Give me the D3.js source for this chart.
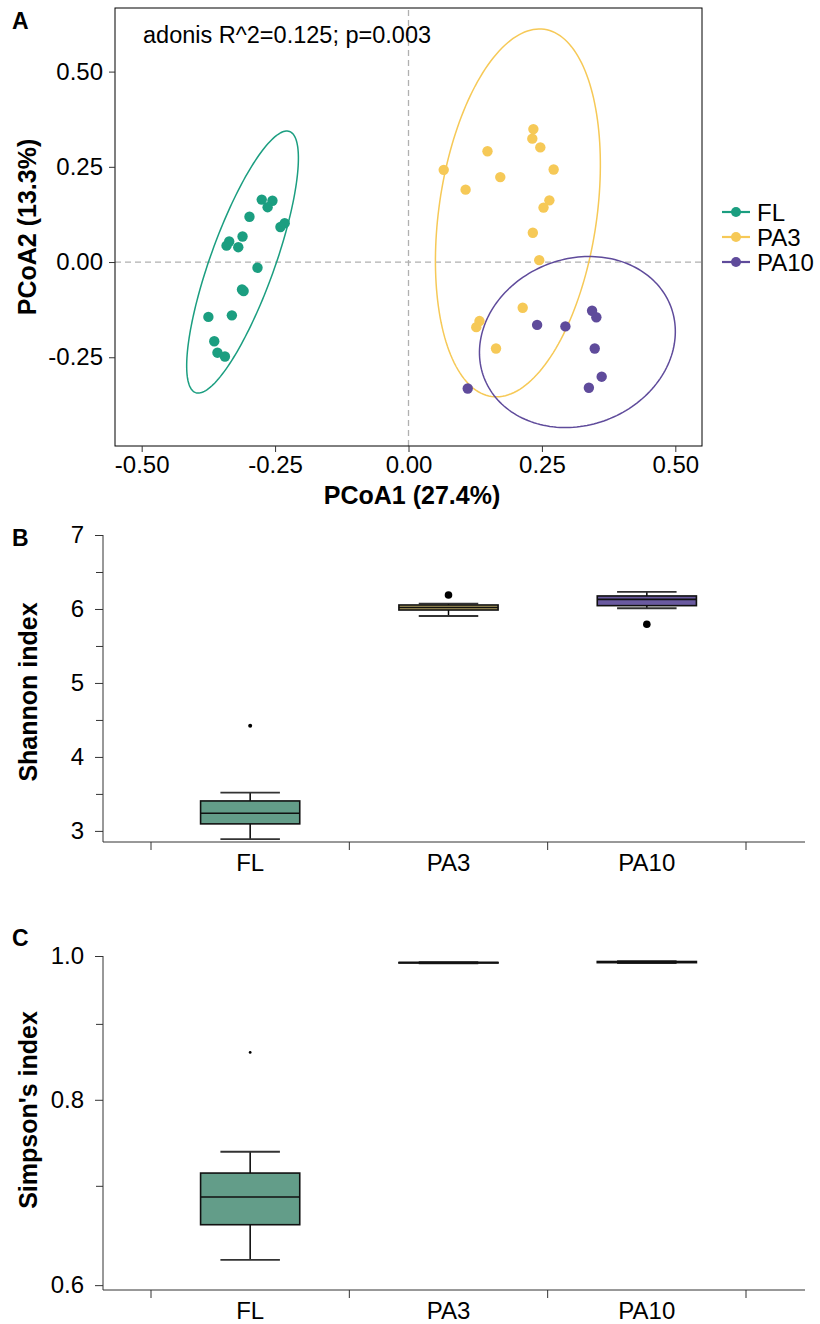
<!DOCTYPE html>
<html><head><meta charset="utf-8">
<script src="https://cdn.jsdelivr.net/npm/d3@7"></script>
<style>
body{margin:0;background:#fff}
text{font-family:"Liberation Sans",Arial,Helvetica,sans-serif;fill:#000}
</style>
</head><body>
<svg id="chart" width="820" height="1324"></svg>
<script>
// ---------- data ----------
const groups = ["FL", "PA3", "PA10"];
const groupColors = ["#1b9e80", "#f6c957", "#5f4b9b"];
const boxFills = ["#639d89", "#b3a260", "#6a5aa0"];

// PCoA coordinates
const pcoa1FL = [-0.275,-0.255,-0.264,-0.298,-0.240,-0.232,-0.311,-0.336,-0.341,-0.319,-0.283,-0.312,-0.309,-0.375,-0.331,-0.364,-0.358,-0.344];
const pcoa2FL = [0.164,0.161,0.144,0.119,0.092,0.102,0.067,0.054,0.043,0.039,-0.015,-0.072,-0.076,-0.144,-0.140,-0.208,-0.238,-0.248];
const pcoa1PA3 = [0.234,0.232,0.247,0.148,0.066,0.272,0.172,0.107,0.264,0.253,0.233,0.245,0.214,0.133,0.127,0.164];
const pcoa2PA3 = [0.349,0.324,0.301,0.291,0.242,0.243,0.223,0.190,0.162,0.143,0.077,0.005,-0.120,-0.155,-0.171,-0.227];
const pcoa1PA10 = [0.241,0.294,0.344,0.352,0.349,0.362,0.338,0.111];
const pcoa2PA10 = [-0.165,-0.169,-0.128,-0.145,-0.227,-0.301,-0.330,-0.332];

// 95% ellipses: centre and two conjugate semi-axis vectors (data units)
const ellipseCx = [-0.311, 0.205, 0.3165];
const ellipseCy = [0.000, 0.129, -0.210];
const ellipseAx = [0.0880, 0.0495, 0.1749];
const ellipseAy = [0.3428, 0.482, 0.0937];
const ellipseBx = [0.0567, 0.1464, 0.0556];
const ellipseBy = [-0.0286, -0.0296, -0.204];

const pcoaXTicks = [-0.5, -0.25, 0, 0.25, 0.5];
const pcoaYTicks = [-0.25, 0, 0.25, 0.5];

// Shannon index box stats
const shannonLow  = [2.888, 5.905, 6.010];
const shannonQ1   = [3.095, 5.986, 6.045];
const shannonMed  = [3.239, 6.020, 6.130];
const shannonQ3   = [3.405, 6.054, 6.176];
const shannonHigh = [3.518, 6.072, 6.230];
const shannonOut  = [4.423, 6.189, 5.793];
const shannonTicks = [3, 4, 5, 6, 7];
const shannonMinor = [3.5, 4.5, 5.5, 6.5];

// Simpson's index box stats
const simpsonLow  = [0.624, 0.9886, 0.9890];
const simpsonQ1   = [0.659, 0.9893, 0.9897];
const simpsonMed  = [0.688, 0.9897, 0.9906];
const simpsonQ3   = [0.714, 0.9900, 0.9915];
const simpsonHigh = [0.738, 0.9904, 0.9921];
const simpsonOut  = [0.861, null, null];
const simpsonTicks = [0.6, 0.8, 1.0];
const simpsonMinor = [0.7, 0.9];

// ---------- drawing ----------
const svg = d3.select("#chart");
const FONT = 24;
const TITLE = 25;

// ===== Panel A =====
const xA = d3.scaleLinear().domain([-0.55, 0.55]).range([115, 702]);
const yA = d3.scaleLinear().domain([-0.483, 0.667]).range([446, 8]);

svg.append("text").attr("x", 12).attr("y", 29).attr("font-size", 23).attr("font-weight", "bold").text("A");

const gA = svg.append("g");
gA.append("line").attr("x1", xA(0)).attr("x2", xA(0)).attr("y1", yA.range()[0]).attr("y2", yA.range()[1])
  .attr("stroke", "#b0b0b0").attr("stroke-width", 1.3).attr("stroke-dasharray", "6,4");
gA.append("line").attr("x1", xA.range()[0]).attr("x2", xA.range()[1]).attr("y1", yA(0)).attr("y2", yA(0))
  .attr("stroke", "#b0b0b0").attr("stroke-width", 1.3).attr("stroke-dasharray", "6,4");

const pcoaData = [
  {x: pcoa1FL, y: pcoa2FL},
  {x: pcoa1PA3, y: pcoa2PA3},
  {x: pcoa1PA10, y: pcoa2PA10}
];
const lineGen = d3.line().x(d => xA(d[0])).y(d => yA(d[1])).curve(d3.curveLinearClosed);
const angles = d3.range(0, 360, 2).map(a => a * Math.PI / 180);
groups.forEach((g, i) => {
  const pts = angles.map(t => [
    ellipseCx[i] + ellipseAx[i] * Math.cos(t) + ellipseBx[i] * Math.sin(t),
    ellipseCy[i] + ellipseAy[i] * Math.cos(t) + ellipseBy[i] * Math.sin(t)
  ]);
  gA.append("path").attr("d", lineGen(pts)).attr("fill", "none")
    .attr("stroke", groupColors[i]).attr("stroke-width", 1.5);
});
groups.forEach((g, i) => {
  const d = pcoaData[i];
  gA.selectAll(null).data(d.x.map((v, k) => [v, d.y[k]])).enter().append("circle")
    .attr("cx", p => xA(p[0])).attr("cy", p => yA(p[1])).attr("r", 5.2)
    .attr("fill", groupColors[i]);
});
gA.append("rect").attr("x", 115).attr("y", 8).attr("width", 587).attr("height", 438)
  .attr("fill", "none").attr("stroke", "#000").attr("stroke-width", 1);

const fmt2 = d => d.toFixed(2);
const axA_x = svg.append("g").attr("transform", "translate(0,446)")
  .call(d3.axisBottom(xA).tickValues(pcoaXTicks).tickFormat(fmt2).tickSize(6).tickPadding(4));
const axA_y = svg.append("g").attr("transform", "translate(115,0)")
  .call(d3.axisLeft(yA).tickValues(pcoaYTicks).tickFormat(fmt2).tickSize(6).tickPadding(6));
[axA_x, axA_y].forEach(a => {
  a.select(".domain").remove();
  a.selectAll("text").attr("font-size", FONT).attr("font-family", null).attr("fill", "#000");
  a.selectAll("line").attr("stroke", "#333");
});

svg.append("text").attr("x", 412).attr("y", 504).attr("text-anchor", "middle")
  .attr("font-size", TITLE).attr("font-weight", "bold").text("PCoA1 (27.4%)");
svg.append("text").attr("transform", "translate(36,227) rotate(-90)").attr("text-anchor", "middle")
  .attr("font-size", TITLE).attr("font-weight", "bold").text("PCoA2 (13.3%)");
svg.append("text").attr("x", 143).attr("y", 43).attr("font-size", 23.5).text("adonis R^2=0.125; p=0.003");

// legend
groups.forEach((g, i) => {
  const y = 212 + i * 25;
  svg.append("line").attr("x1", 722).attr("x2", 750).attr("y1", y).attr("y2", y)
    .attr("stroke", groupColors[i]).attr("stroke-width", 2.2);
  svg.append("circle").attr("cx", 736).attr("cy", y).attr("r", 5).attr("fill", groupColors[i]);
  svg.append("text").attr("x", 757).attr("y", y + 8.5).attr("font-size", FONT).text(g);
});

// ===== Box panels =====
function boxPanel(opts) {
  const {y, top, bottom, letter, letterY, title, titleY, low, q1, med, q3, high, out, ticks, minor, fmt, outR} = opts;
  const x = d3.scaleBand().domain(groups).range([151, 746]).padding(0);
  const bw = x.bandwidth();
  const g = svg.append("g");
  svg.append("text").attr("x", 12).attr("y", letterY).attr("font-size", 23).attr("font-weight", "bold").text(letter);

  groups.forEach((grp, i) => {
    const cx = x(grp) + bw / 2;
    g.append("line").attr("x1", cx).attr("x2", cx).attr("y1", y(high[i])).attr("y2", y(q3[i]))
      .attr("stroke", "#000").attr("stroke-width", 1.5);
    g.append("line").attr("x1", cx).attr("x2", cx).attr("y1", y(q1[i])).attr("y2", y(low[i]))
      .attr("stroke", "#000").attr("stroke-width", 1.5);
    [high[i], low[i]].forEach(v => {
      g.append("line").attr("x1", cx - bw * 0.15).attr("x2", cx + bw * 0.15).attr("y1", y(v)).attr("y2", y(v))
        .attr("stroke", "#333").attr("stroke-width", 1.8);
    });
    g.append("rect").attr("x", cx - bw * 0.25).attr("width", bw * 0.5)
      .attr("y", y(q3[i])).attr("height", Math.max(0.5, y(q1[i]) - y(q3[i])))
      .attr("fill", boxFills[i]).attr("stroke", "#111").attr("stroke-width", 1.6);
    g.append("line").attr("x1", cx - bw * 0.25).attr("x2", cx + bw * 0.25).attr("y1", y(med[i])).attr("y2", y(med[i]))
      .attr("stroke", "#111").attr("stroke-width", 1.6);
    if (out[i] != null) {
      g.append("circle").attr("cx", cx).attr("cy", y(out[i])).attr("r", outR[i]).attr("fill", "#000");
    }
  });

  const ay = svg.append("g").attr("transform", "translate(103,0)")
    .call(d3.axisLeft(y).tickValues(ticks).tickFormat(fmt).tickSize(8).tickSizeOuter(0).tickPadding(11));
  ay.selectAll("text").attr("font-size", FONT).attr("font-family", null).attr("fill", "#000");
  ay.selectAll("line").attr("stroke", "#333");
  ay.select(".domain").attr("stroke", "#333").attr("d", `M0,${top}V${bottom}`);
  const am = svg.append("g").attr("transform", "translate(103,0)")
    .call(d3.axisLeft(y).tickValues(minor).tickFormat("").tickSize(7).tickSizeOuter(0));
  am.select(".domain").remove();
  am.selectAll("line").attr("stroke", "#333");

  const ax = svg.append("g").attr("transform", `translate(0,${bottom})`);
  ax.append("line").attr("x1", 103).attr("x2", 805).attr("y1", 0).attr("y2", 0).attr("stroke", "#333");
  const edges = groups.map(gg => x(gg)).concat([x.range()[1]]);
  edges.forEach(e => ax.append("line").attr("x1", e).attr("x2", e).attr("y1", 0).attr("y2", 8).attr("stroke", "#333"));
  groups.forEach(gg => ax.append("text").attr("x", x(gg) + bw / 2).attr("y", 29).attr("text-anchor", "middle")
    .attr("font-size", FONT).text(gg));

  svg.append("text").attr("transform", `translate(37,${titleY}) rotate(-90)`).attr("text-anchor", "middle")
    .attr("font-size", TITLE).attr("font-weight", "bold").text(title);
}

const yB = d3.scaleLinear().domain([2.85, 7]).range([842, 535]);
boxPanel({y: yB, top: 535, bottom: 842, letter: "B", letterY: 546, title: "Shannon index", titleY: 692,
  low: shannonLow, q1: shannonQ1, med: shannonMed, q3: shannonQ3, high: shannonHigh, out: shannonOut,
  ticks: shannonTicks, minor: shannonMinor, fmt: d3.format("d"), outR: [2, 3.8, 3.8]});

const yC = d3.scaleLog().domain([0.5955, 1.0]).range([1290, 956]);
boxPanel({y: yC, top: 956, bottom: 1290, letter: "C", letterY: 946, title: "Simpson's index", titleY: 1110,
  low: simpsonLow, q1: simpsonQ1, med: simpsonMed, q3: simpsonQ3, high: simpsonHigh, out: simpsonOut,
  ticks: simpsonTicks, minor: simpsonMinor, fmt: d => d.toFixed(1), outR: [1.4, 0, 0]});
</script>
</body></html>
